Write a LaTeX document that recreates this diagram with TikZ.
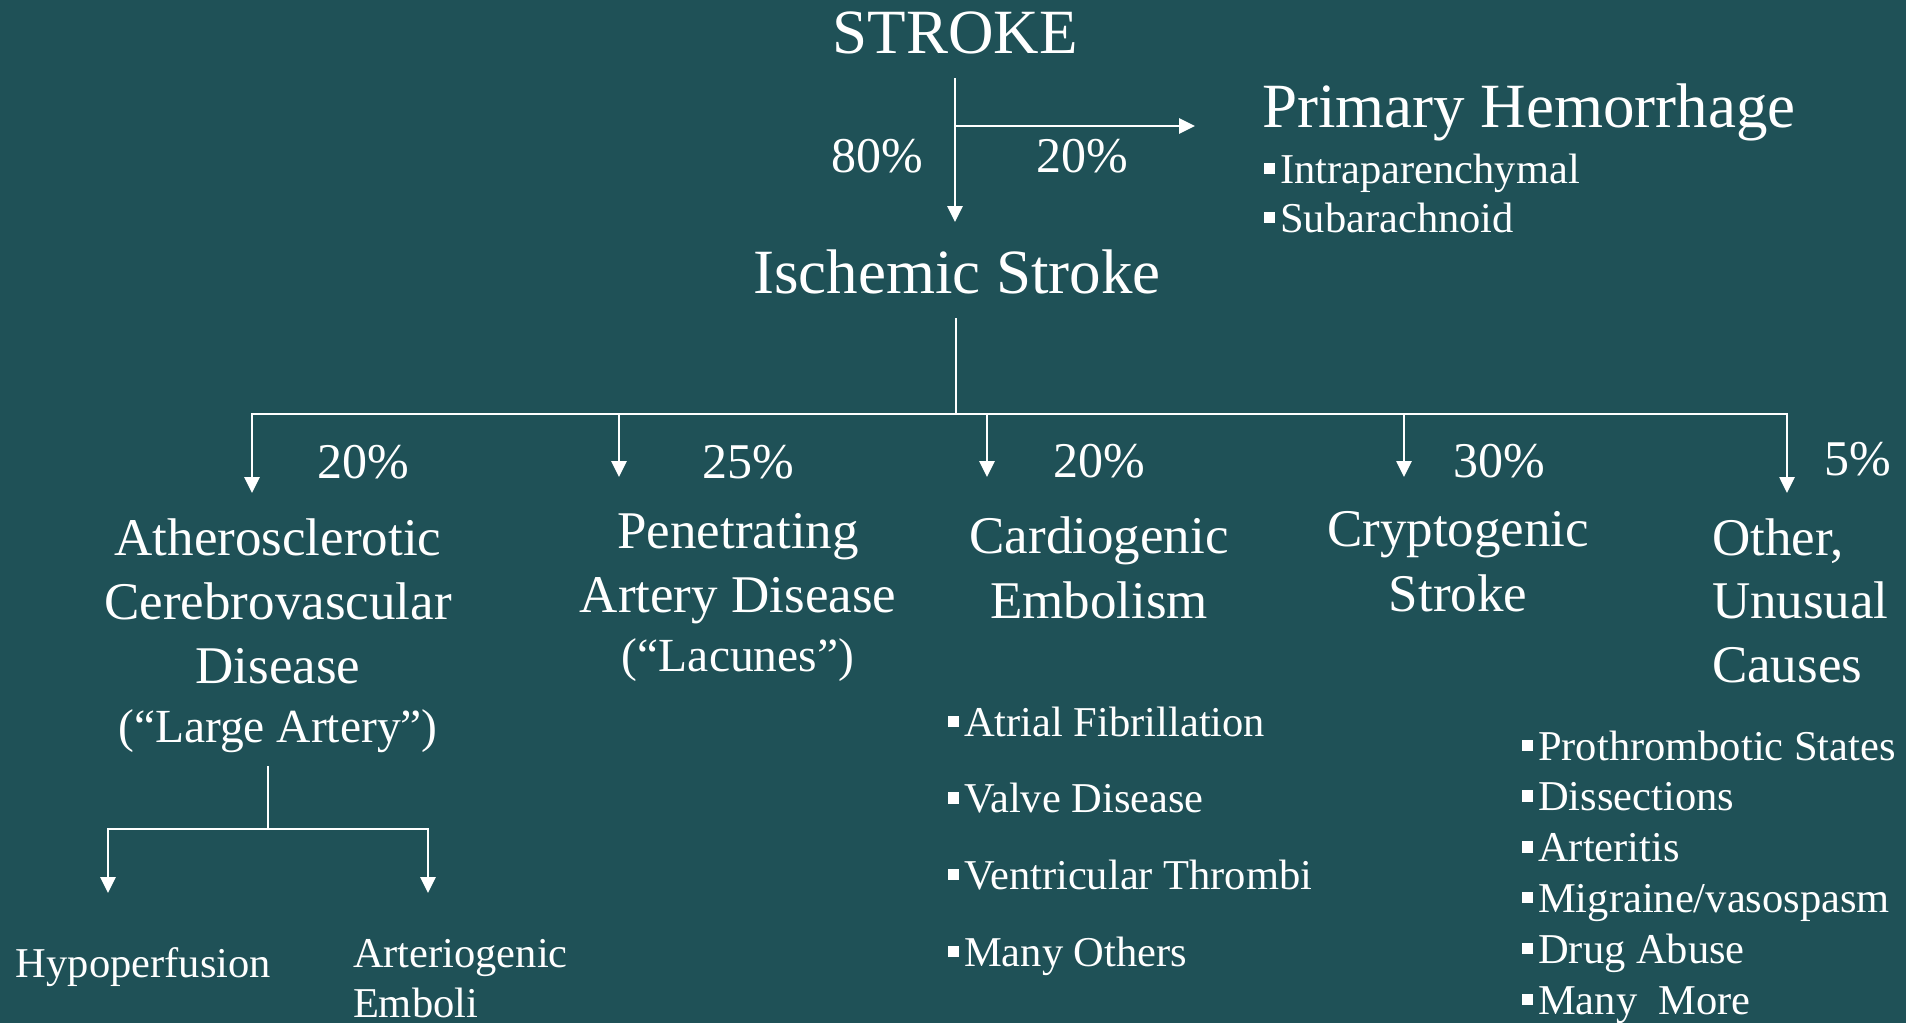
\documentclass[tikz,border=0pt]{standalone}
\usepackage{fontspec}
\setmainfont{Liberation Serif}
\usetikzlibrary{arrows.meta}
\definecolor{bgteal}{RGB}{31,81,87}
\newcommand\sqb{\rule[0.21em]{0.26em}{0.27em}\hspace{0.12em}}
\begin{document}
\begin{tikzpicture}[x=1pt,y=-1pt,
  txt/.style={inner sep=0pt, outer sep=0pt, text=white},
  big/.style={txt, font=\fontsize{63}{63}\selectfont},
  pct/.style={txt, font=\fontsize{50}{50}\selectfont},
  mid/.style={txt, font=\fontsize{53}{#1}\selectfont},
  sml/.style={txt, font=\fontsize{42.5}{#1}\selectfont},
  conn/.style={white, line width=2.7pt},
  tip/.tip={Triangle[length=16pt,width=15pt]},
  arr/.style={conn, -tip},
  arr2/.style={conn, tip-tip}]
\fill[bgteal] (0,0) rectangle (1906,1023);
\useasboundingbox (0,0) rectangle (1906,1023);

% ---- top part
\node[big, anchor=base] (stroke) at (955,53) {STROKE};
\node[big, anchor=base west] (hem) at (1262,127) {Primary Hemorrhage};
\node[sml=49, anchor=base west] (hemlist) at (1264,183)
  {\begin{tabular}[t]{@{}l@{}}\sqb Intraparenchymal\\\sqb Subarachnoid\end{tabular}};
\node[pct, anchor=base east] (p80) at (923,172) {80\%};
\node[pct, anchor=base west] (p20a) at (1036,172) {20\%};
\node[big, anchor=base] (isch) at (957,293) {Ischemic Stroke};

\coordinate (t0) at (955,78);
\coordinate (t1) at (955,126);
\coordinate (t2) at (955,222);
\coordinate (h1) at (1195,126);
\draw[arr] (t0) -- (t2);
\draw[arr] (t1) -- (h1);

% ---- main branch
\coordinate (i0) at (956,318);
\coordinate (i1) at (956,414);
\coordinate (bl) at (252,414);
\coordinate (br) at (1787,414);
\coordinate (a1) at (252,493);
\coordinate (b2) at (619,414);
\coordinate (a2) at (619,477);
\coordinate (b3) at (987,414);
\coordinate (a3) at (987,477);
\coordinate (b4) at (1404,414);
\coordinate (a4) at (1404,477);
\coordinate (a5) at (1787,493);
\draw[conn] (i0) -- (i1);
\draw[arr2] (a1) -- (bl) -- (br) -- (a5);
\draw[arr] (b2) -- (a2);
\draw[arr] (b3) -- (a3);
\draw[arr] (b4) -- (a4);

\node[pct, anchor=base west] (p20b) at (317,478) {20\%};
\node[pct, anchor=base west] (p25) at (702,478) {25\%};
\node[pct, anchor=base west] (p20c) at (1053,477) {20\%};
\node[pct, anchor=base west] (p30) at (1453,477) {30\%};
\node[pct, anchor=base west] (p5) at (1824,475) {5\%};

% ---- categories
\node[mid=64, anchor=base] (ath) at (278,555)
  {\begin{tabular}[t]{@{}c@{}}Atherosclerotic\\Cerebrovascular\\Disease\\[-5pt]{\fontsize{47.5}{59}\selectfont (“Large Artery”)}\end{tabular}};
\node[mid=64, anchor=base] (pen) at (738,548)
  {\begin{tabular}[t]{@{}c@{}}Penetrating\\Artery Disease\\[-5pt]{\fontsize{47.5}{59}\selectfont (“Lacunes”)}\end{tabular}};
\node[mid=65.5, anchor=base] (car) at (1099,553)
  {\begin{tabular}[t]{@{}c@{}}Cardiogenic\\Embolism\end{tabular}};
\node[mid=65, anchor=base] (cry) at (1458,546)
  {\begin{tabular}[t]{@{}c@{}}Cryptogenic\\Stroke\end{tabular}};
\node[mid=63.5, anchor=base west] (oth) at (1712,555)
  {\begin{tabular}[t]{@{}l@{}}Other,\\Unusual\\Causes\end{tabular}};

% ---- lists
\node[sml=76.7, anchor=base west] (carl) at (948,736)
  {\begin{tabular}[t]{@{}l@{}}\sqb Atrial Fibrillation\\\sqb Valve Disease\\\sqb Ventricular Thrombi\\\sqb Many Others\end{tabular}};
\node[sml=50.8, anchor=base west] (othl) at (1522,760)
  {\begin{tabular}[t]{@{}l@{}}\sqb Prothrombotic States\\\sqb Dissections\\\sqb Arteritis\\\sqb Migraine/vasospasm\\\sqb Drug Abuse\\\sqb Many\ \ More\end{tabular}};

% ---- sub-branch of large artery
\coordinate (s0) at (268,766);
\coordinate (s1) at (268,829);
\coordinate (sl) at (108,829);
\coordinate (sr) at (428,829);
\coordinate (sa1) at (108,893);
\coordinate (sa2) at (428,893);
\draw[conn] (s0) -- (s1);
\draw[arr2] (sa1) -- (sl) -- (sr) -- (sa2);
\node[sml=50, anchor=base west] (hyp) at (16,977) {Hypoperfusion};
\node[sml=50, anchor=base west] (art) at (353,967)
  {\begin{tabular}[t]{@{}l@{}}Arteriogenic\\Emboli\end{tabular}};
\end{tikzpicture}
\end{document}
